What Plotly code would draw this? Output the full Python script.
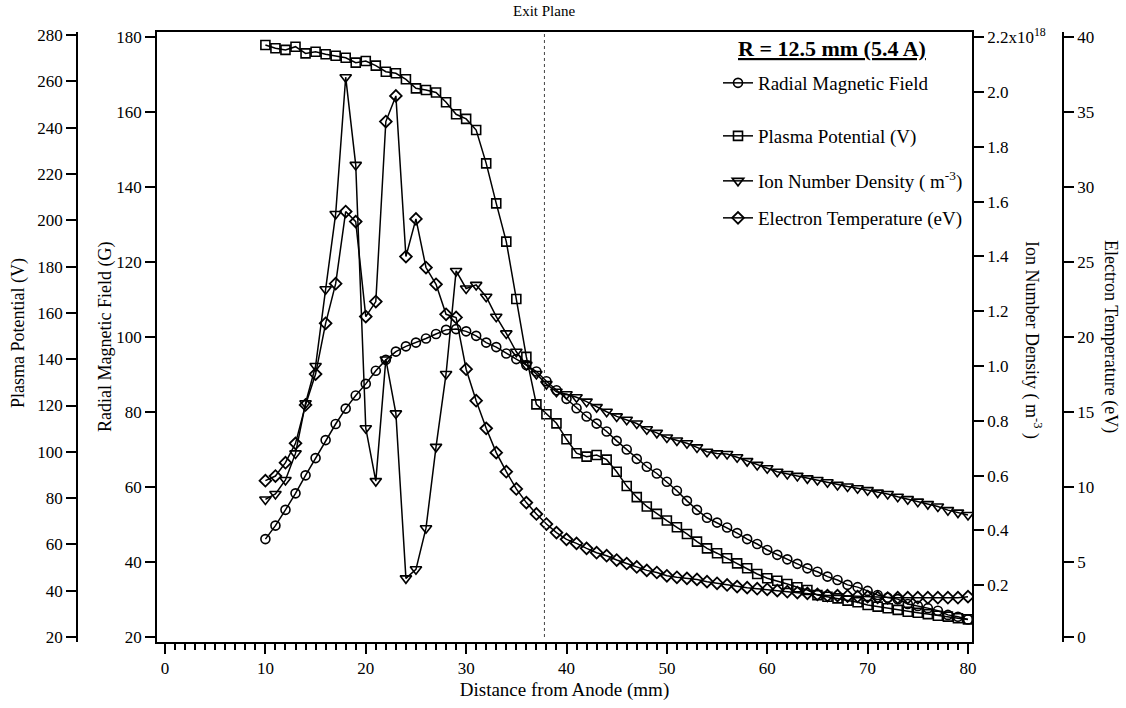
import plotly.graph_objects as go

# ---------------- data ----------------
distance_mm = list(range(10, 81))

radial_field_G = [
    46.1, 49.7, 53.9, 58.3, 63.1, 67.7, 72.5, 76.8, 80.9, 84.4,
    87.5, 91.0, 93.9, 96.1, 97.5, 98.5, 99.6, 100.8, 101.9, 102.1,
    101.5, 100.3, 98.5, 97.3, 95.6, 94.1, 92.5, 90.8, 88.2, 85.8,
    83.5, 81.0, 78.8, 76.9, 74.8, 72.3, 70.0, 67.5, 65.4, 63.6,
    61.4, 59.0, 56.3, 53.9, 51.8, 50.5, 49.2, 47.7, 46.1, 44.8,
    43.2, 41.9, 40.7, 39.5, 38.3, 37.4, 36.1, 35.2, 33.9, 33.3,
    32.3, 31.2, 30.5, 30.1, 28.8, 28.3, 27.7, 27.0, 25.9, 25.4,
    24.7]

plasma_potential_V = [
    275.7, 274.3, 273.6, 275.0, 272.1, 272.8, 271.7, 271.1, 270.2, 268.1,
    268.8, 266.8, 264.2, 263.5, 260.9, 257.0, 256.3, 255.2, 251.0, 245.8,
    243.8, 239.0, 224.6, 207.3, 190.8, 166.0, 141.0, 120.5, 116.2, 112.3,
    105.4, 99.4, 97.9, 98.6, 96.6, 91.4, 85.2, 80.4, 76.4, 73.2,
    70.3, 67.4, 64.5, 61.2, 58.3, 56.2, 54.0, 51.8, 49.7, 47.2,
    45.4, 44.3, 42.9, 41.5, 40.3, 38.1, 37.4, 36.7, 35.7, 35.0,
    33.8, 33.1, 32.4, 31.7, 30.9, 30.5, 29.9, 29.2, 28.8, 28.1,
    27.6]

ion_density_1e18 = [
    0.513, 0.533, 0.584, 0.681, 0.864, 1.000, 1.280, 1.555, 2.054, 1.734,
    0.773, 0.580, 1.024, 0.827, 0.225, 0.258, 0.408, 0.705, 0.971, 1.347,
    1.283, 1.296, 1.253, 1.180, 1.119, 1.052, 1.004, 0.971, 0.934, 0.906,
    0.897, 0.886, 0.870, 0.850, 0.833, 0.816, 0.804, 0.790, 0.769, 0.756,
    0.739, 0.728, 0.718, 0.703, 0.687, 0.681, 0.679, 0.667, 0.653, 0.639,
    0.627, 0.614, 0.606, 0.599, 0.590, 0.584, 0.576, 0.566, 0.560, 0.554,
    0.547, 0.538, 0.533, 0.523, 0.514, 0.505, 0.496, 0.487, 0.474, 0.465,
    0.456]

electron_temp_eV = [
    10.42, 10.73, 11.62, 12.91, 15.47, 17.53, 20.91, 23.55, 28.36, 27.69,
    21.36, 22.36, 34.36, 36.07, 25.36, 27.87, 24.63, 23.51, 21.51, 21.30,
    17.85, 15.75, 13.91, 12.29, 11.02, 9.87, 8.96, 8.20, 7.53, 6.96,
    6.51, 6.24, 5.91, 5.62, 5.42, 5.13, 4.90, 4.67, 4.44, 4.30,
    4.08, 3.98, 3.91, 3.84, 3.69, 3.58, 3.47, 3.36, 3.29, 3.22,
    3.18, 3.09, 3.02, 2.96, 2.91, 2.84, 2.76, 2.76, 2.73, 2.70,
    2.69, 2.64, 2.60, 2.62, 2.62, 2.62, 2.62, 2.62, 2.62, 2.62,
    2.69]

x_ticks = [0, 10, 20, 30, 40, 50, 60, 70, 80]
field_ticks = [20, 40, 60, 80, 100, 120, 140, 160, 180]
potential_ticks = [20, 40, 60, 80, 100, 120, 140, 160, 180, 200, 220, 240, 260, 280]
density_ticks = [0.2, 0.4, 0.6, 0.8, 1.0, 1.2, 1.4, 1.6, 1.8, 2.0, 2.2]
density_tick_text = ["0.2", "0.4", "0.6", "0.8", "1.0", "1.2", "1.4", "1.6", "1.8", "2.0",
                     "2.2x10<sup>18</sup>"]
temp_ticks = [0, 5, 10, 15, 20, 25, 30, 35, 40]

exit_plane_mm = 37.8

series_names = ["Radial Magnetic Field", "Plasma Potential (V)",
                "Ion Number Density ( m<sup>-3</sup>)", "Electron Temperature (eV)"]

# ---------------- figure ----------------
FONT = "Liberation Serif"
W, H = 1126, 708
ML, MR, MT, MB = 10, 10, 32, 66
PW = W - ML - MR
PH = H - MT - MB

def px_x(p):
    return (p - ML) / PW

def px_y(p):
    return (H - MB - p) / PH

line_style = dict(color="black", width=1.5)

fig = go.Figure()
fig.add_trace(go.Scatter(
    x=distance_mm, y=radial_field_G, name=series_names[0], yaxis="y",
    mode="lines+markers", line=line_style,
    marker=dict(symbol="circle-open", size=9, color="black", line=dict(width=1.6)),
    legend="legend"))
fig.add_trace(go.Scatter(
    x=distance_mm, y=plasma_potential_V, name=series_names[1], yaxis="y2",
    mode="lines+markers", line=line_style,
    marker=dict(symbol="square-open", size=9, color="black", line=dict(width=1.6)),
    legend="legend2"))
fig.add_trace(go.Scatter(
    x=distance_mm, y=ion_density_1e18, name=series_names[2], yaxis="y3",
    mode="lines+markers", line=line_style,
    marker=dict(symbol="triangle-down-open", size=10, color="black", line=dict(width=1.6)),
    legend="legend3"))
fig.add_trace(go.Scatter(
    x=distance_mm, y=electron_temp_eV, name=series_names[3], yaxis="y4",
    mode="lines+markers", line=line_style,
    marker=dict(symbol="diamond-open", size=9, color="black", line=dict(width=1.8)),
    legend="legend4"))

tick_font = dict(family=FONT, size=17, color="black")
common_axis = dict(showgrid=False, zeroline=False, showline=True, linecolor="black",
                   linewidth=1.5, ticks="outside", ticklen=10, tickwidth=1.5,
                   tickcolor="black", tickfont=tick_font, automargin=False)

x0_px, x1_px = 157, 972
fig.update_layout(
    width=W, height=H, template="none",
    paper_bgcolor="white", plot_bgcolor="white",
    margin=dict(l=ML, r=MR, t=MT, b=MB),
    font=dict(family=FONT, size=17, color="black"),
    xaxis=dict(common_axis, domain=[px_x(x0_px), px_x(x1_px)], range=[-0.8, 80.4],
               tickvals=x_ticks, mirror=True,
               minor=dict(ticks="outside", ticklen=6, dtick=1, tick0=0,
                          tickcolor="black", tickwidth=1.5),
               title=dict(text="Distance from Anode (mm)", standoff=6,
                          font=dict(family=FONT, size=19))),
    yaxis=dict(common_axis, range=[18.667, 181.33], tickvals=field_ticks,
               anchor="x", side="left"),
    yaxis2=dict(common_axis, range=[17.84, 281.34], tickvals=potential_ticks,
                overlaying="y", anchor="free", side="left", position=px_x(77)),
    yaxis3=dict(common_axis, range=[-0.0073, 2.219], tickvals=density_ticks,
                ticktext=density_tick_text, overlaying="y", anchor="x", side="right"),
    yaxis4=dict(common_axis, range=[-0.333, 40.33], tickvals=temp_ticks,
                overlaying="y", anchor="free", side="right", position=px_x(1063)),
    showlegend=True,
)

legend_font = dict(family=FONT, size=19, color="black")
legend_rows = [83, 136, 181, 218]
for i, key in enumerate(["legend", "legend2", "legend3", "legend4"]):
    fig.update_layout({key: dict(x=px_x(718), y=px_y(legend_rows[i]), xanchor="left",
                                 yanchor="middle", bgcolor="rgba(0,0,0,0)",
                                 borderwidth=0, font=legend_font, itemwidth=30)})

# exit plane line
fig.add_shape(type="line", xref="x", yref="paper", x0=exit_plane_mm, x1=exit_plane_mm,
              y0=px_y(637), y1=1, line=dict(color="#444", width=1, dash="dot"))

def ann(text, xp, yp, size=17, angle=0):
    return dict(text=text, x=px_x(xp), y=px_y(yp), xref="paper", yref="paper",
                xanchor="center", yanchor="middle", textangle=angle, showarrow=False,
                font=dict(family=FONT, size=size, color="black"))

annotations = [
    dict(text="Exit Plane", x=exit_plane_mm, xref="x", y=px_y(11), yref="paper",
         xanchor="center", yanchor="middle", showarrow=False,
         font=dict(family=FONT, size=15, color="black")),
    ann("<b><u>R = 12.5 mm (5.4 A)</u></b>", 832, 48, size=22),
    ann("Plasma Potential (V)", 18, 333, size=18, angle=-90),
    ann("Radial Magnetic Field (G)", 105, 337, size=18, angle=-90),
    ann("Ion Number Density ( m<sup>-3</sup> )", 1033, 340, size=18, angle=90),
    ann("Electron Temperature (eV)", 1111, 336, size=18, angle=90),
]
fig.update_layout(annotations=annotations)

fig.write_html("out.html")
